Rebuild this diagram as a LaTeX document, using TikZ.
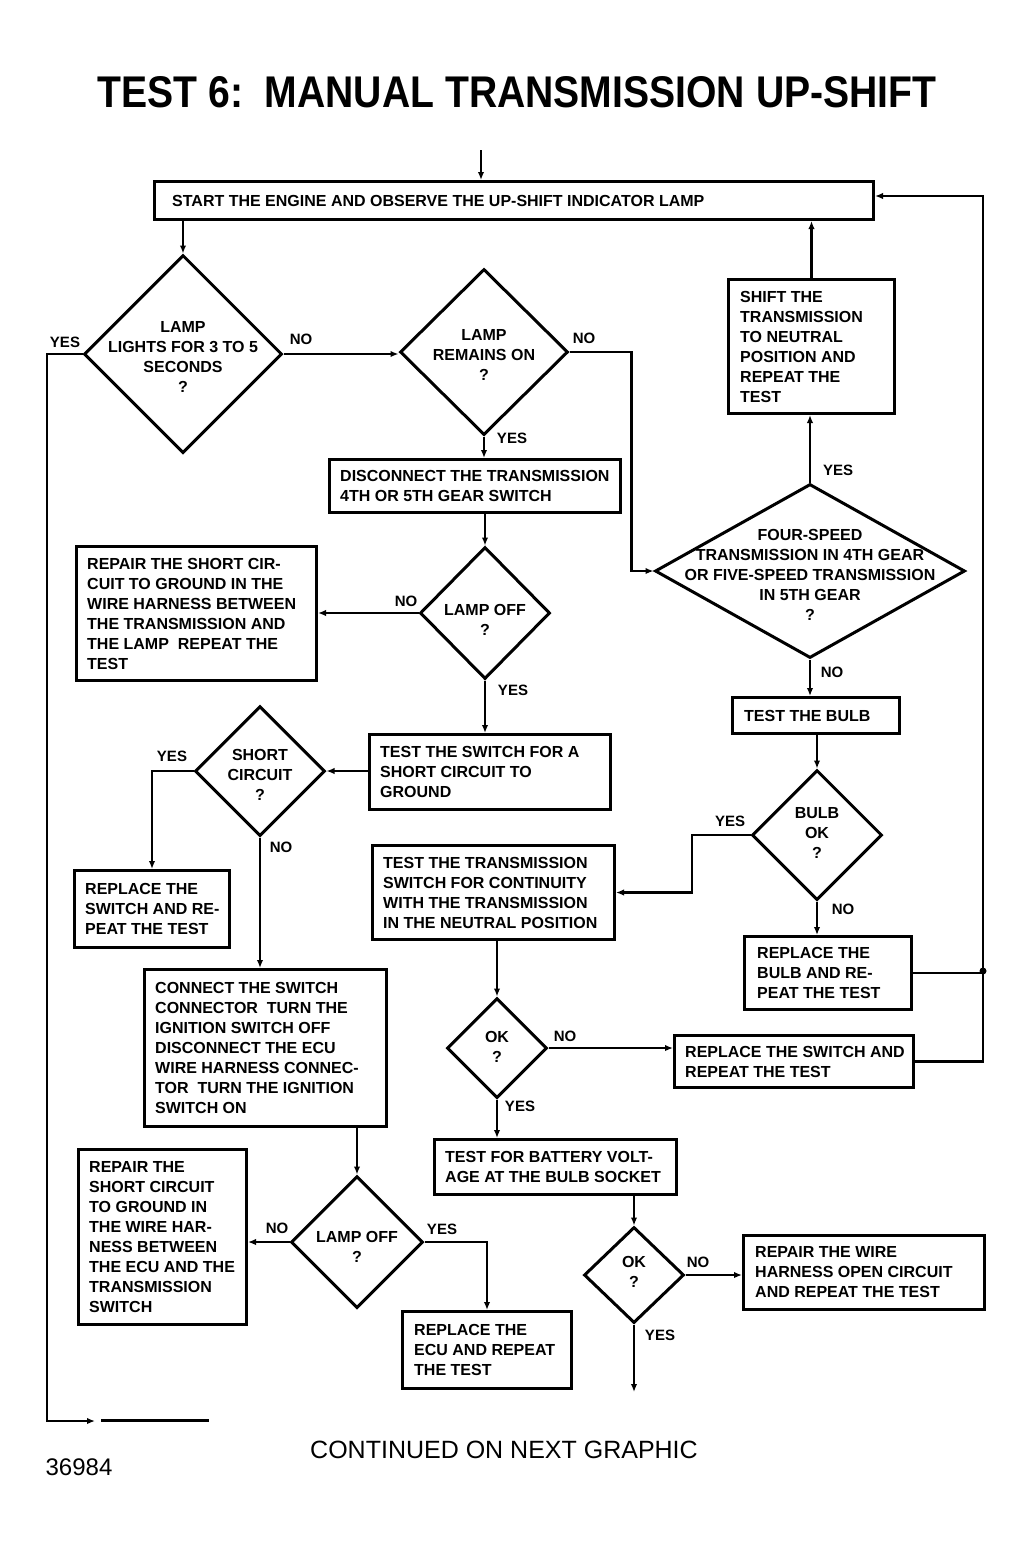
\documentclass[tikz,border=0pt]{standalone}
\usepackage{fontspec}
\setmainfont{Liberation Sans}
\usetikzlibrary{shapes.geometric,arrows.meta,calc}
\newcommand{\fbx}[7]{%
  \node[box,anchor=north west,minimum width={#4pt-#2pt},minimum height={#5pt-#3pt}] (#1) at (#2,#3) {};
  \node[txt,anchor=west] (#1-t) at ([xshift=#6pt]#1.west) {#7};
}
\newcommand{\dia}[7]{%
  \node[dm,minimum width={2*#4pt},minimum height={2*#5pt}] (#1) at (#2,#3) {};
  \node[txt,align=center] (#1-t) at (#2,#6) {#7};
}
\begin{document}
\begin{tikzpicture}[x=1pt,y=-1pt,
  box/.style={draw,line width=3pt,rectangle,inner sep=0pt},
  dm/.style={draw,line width=3pt,diamond,inner sep=0pt},
  txt/.style={inner sep=0pt,align=left,font=\fontsize{16}{20}\selectfont\bfseries},
  lbl/.style={inner sep=0pt,font=\fontsize{15}{18}\selectfont\bfseries},
  cn/.style={line width=2.8pt},
  cnt/.style={line width=2.2pt},
  arr/.style={-{Latex[length=8pt,width=6.5pt]}}]
\useasboundingbox (0,0) rectangle (1026,1551);
\fill[white] (0,0) rectangle (1026,1551);

% title
\node[inner sep=0pt] (title) at (517,92) {\resizebox{839pt}{31pt}{\bfseries TEST 6:\ \ MANUAL TRANSMISSION UP-SHIFT}};

% boxes
\fbx{start}{153}{180}{872}{218}{19}{START THE ENGINE AND OBSERVE THE UP-SHIFT INDICATOR LAMP}
\fbx{shift}{727}{278}{893}{412}{13}{SHIFT THE\\TRANSMISSION\\TO NEUTRAL\\POSITION AND\\REPEAT THE\\TEST}
\fbx{disc}{328}{458}{619}{511}{12}{DISCONNECT THE TRANSMISSION\\4TH OR 5TH GEAR SWITCH}
\fbx{rep1}{75}{545}{315}{679}{12}{REPAIR THE SHORT CIR-\\CUIT TO GROUND IN THE\\WIRE HARNESS BETWEEN\\THE TRANSMISSION AND\\THE LAMP\ \ REPEAT THE\\TEST}
\fbx{tsw}{368}{733}{609}{808}{12}{TEST THE SWITCH FOR A\\SHORT CIRCUIT TO\\GROUND}
\fbx{repsw}{73}{869}{228}{946}{12}{REPLACE THE\\SWITCH AND RE-\\PEAT THE TEST}
\fbx{conn}{143}{968}{385}{1125}{12}{CONNECT THE SWITCH\\CONNECTOR\ \ TURN THE\\IGNITION SWITCH OFF\\DISCONNECT THE ECU\\WIRE HARNESS CONNEC-\\TOR\ \ TURN THE IGNITION\\SWITCH ON}
\fbx{rep2}{77}{1148}{245}{1323}{12}{REPAIR THE\\SHORT CIRCUIT\\TO GROUND IN\\THE WIRE HAR-\\NESS BETWEEN\\THE ECU AND THE\\TRANSMISSION\\SWITCH}
\fbx{recu}{401}{1310}{570}{1387}{13}{REPLACE THE\\ECU AND REPEAT\\THE TEST}
\fbx{tbulb}{731}{696}{898}{732}{13}{TEST THE BULB}
\fbx{ttrans}{371}{844}{613}{938}{12}{TEST THE TRANSMISSION\\SWITCH FOR CONTINUITY\\WITH THE TRANSMISSION\\IN THE NEUTRAL POSITION}
\fbx{rbulb}{743}{935}{910}{1008}{14}{REPLACE THE\\BULB AND RE-\\PEAT THE TEST}
\fbx{rsw2}{673}{1034}{912}{1086}{12}{REPLACE THE SWITCH AND\\REPEAT THE TEST}
\fbx{batt}{433}{1138}{675}{1193}{12}{TEST FOR BATTERY VOLT-\\AGE AT THE BULB SOCKET}
\fbx{wire}{742}{1234}{983}{1308}{13}{REPAIR THE WIRE\\HARNESS OPEN CIRCUIT\\AND REPEAT THE TEST}

% diamonds
\dia{d1}{183}{354}{99}{99}{357}{LAMP\\LIGHTS FOR 3 TO 5\\SECONDS\\?}
\dia{d2}{484}{352}{84}{83}{355}{LAMP\\REMAINS ON\\?}
\dia{d3}{485}{613}{65}{66}{620}{LAMP OFF\\?}
\dia{d4}{260}{771}{65}{65}{775}{SHORT\\CIRCUIT\\?}
\dia{d5}{357}{1242}{66}{66}{1247}{LAMP OFF\\?}
\dia{d4f}{810}{571}{155}{87}{575}{FOUR-SPEED\\TRANSMISSION IN 4TH GEAR\\OR FIVE-SPEED TRANSMISSION\\IN 5TH GEAR\\?}
\dia{dbulb}{817}{835}{65}{65}{833}{BULB\\OK\\?}
\dia{ok1}{497}{1048}{50}{50}{1047}{OK\\?}
\dia{ok2}{634}{1275}{50}{48}{1272}{OK\\?}

% coordinates
\coordinate (entry) at (481,150);
\coordinate (cl) at (47,1421);
\coordinate (cl2) at (95,1421);
\coordinate (ca) at (101,1420);
\coordinate (cb) at (209,1420);
\coordinate (jn) at (983,971);
\coordinate (rt) at (983,196);
\coordinate (cont) at (634,1392);

% connectors
\draw[cn,arr] (entry) -- (entry |- start.north);
\draw[cn,arr] (d1.north |- start.south) -- (d1.north);
\draw[cnt,arr] (d1.west) -| (cl) -- (cl2);
\draw[line width=3pt] (ca) -- (cb);
\draw[cn,arr] (d1.east) -- (d1.east -| d2.west);
\draw[cnt,arr] (d2.east) -| ($(d4f.west)+(-22,0)$) -- (d4f.west);
\draw[cn,arr] (d2.south) -- (d2.south |- disc.north);
\draw[cn,arr] (d3.north |- disc.south) -- (d3.north);
\draw[cn,arr] (d3.west) -- (d3.west -| rep1.east);
\draw[cn,arr] (d3.south) -- (d3.south |- tsw.north);
\draw[cn,arr] (tsw.west |- d4.east) -- (d4.east);
\draw[cn,arr] (d4.west) -| (repsw.north);
\draw[cn,arr] (d4.south) -- (d4.south |- conn.north);
\draw[cn,arr] (d5.north |- conn.south) -- (d5.north);
\draw[cn,arr] (d5.west) -- (d5.west -| rep2.east);
\draw[cn,arr] (d5.east) -| (recu.north);
\draw[cn,arr] (shift.north) -- (shift.north |- start.south);
\draw[cn,arr] (d4f.north) -- (d4f.north |- shift.south);
\draw[cn,arr] (d4f.south) -- (d4f.south |- tbulb.north);
\draw[cn,arr] (dbulb.north |- tbulb.south) -- (dbulb.north);
\draw[cn,arr] (dbulb.west) -| ($(ttrans.east)+(76,0)$) -- (ttrans.east);
\draw[cn,arr] (dbulb.south) -- (dbulb.south |- rbulb.north);
\draw[cnt] (rbulb.east) -- (rbulb.east -| jn);
\fill (jn) circle (3.5pt);
\draw[cnt,arr] (rsw2.east) -| (rt) -- (rt -| start.east);
\draw[cn,arr] (ok1.north |- ttrans.south) -- (ok1.north);
\draw[cn,arr] (ok1.east) -- (ok1.east -| rsw2.west);
\draw[cn,arr] (ok1.south) -- (ok1.south |- batt.north);
\draw[cn,arr] (ok2.north |- batt.south) -- (ok2.north);
\draw[cn,arr] (ok2.east) -- (ok2.east -| wire.west);
\draw[cn,arr] (ok2.south) -- (cont);

% labels
\node[lbl] (l1) at (65,342) {YES};
\node[lbl] (l2) at (301,339) {NO};
\node[lbl] (l3) at (584,338) {NO};
\node[lbl] (l4) at (512,438) {YES};
\node[lbl] (l5) at (406,601) {NO};
\node[lbl] (l6) at (513,690) {YES};
\node[lbl] (l7) at (172,756) {YES};
\node[lbl] (l8) at (281,847) {NO};
\node[lbl] (l9) at (277,1228) {NO};
\node[lbl] (l10) at (442,1229) {YES};
\node[lbl] (l11) at (838,470) {YES};
\node[lbl] (l12) at (832,672) {NO};
\node[lbl] (l13) at (730,821) {YES};
\node[lbl] (l14) at (843,909) {NO};
\node[lbl] (l15) at (565,1036) {NO};
\node[lbl] (l16) at (520,1106) {YES};
\node[lbl] (l17) at (698,1262) {NO};
\node[lbl] (l18) at (660,1335) {YES};

% footer
\node[inner sep=0pt,font=\fontsize{25}{28}\selectfont] (cont-t) at (504,1450) {CONTINUED ON NEXT GRAPHIC};
\node[inner sep=0pt,font=\fontsize{24}{27}\selectfont] (num) at (79,1467) {36984};
\end{tikzpicture}
\end{document}
